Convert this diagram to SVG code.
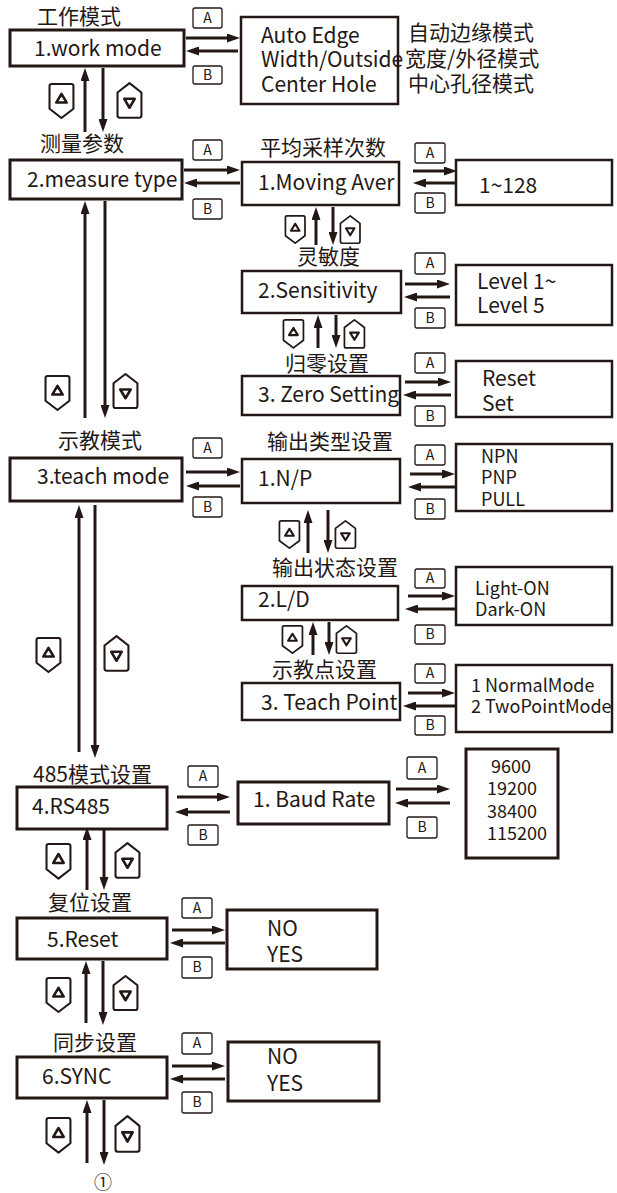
<svg xmlns="http://www.w3.org/2000/svg" width="617" height="1193" viewBox="0 0 617 1193">
<style>
text{font-family:"Noto Sans CJK SC","Noto Sans",sans-serif;fill:#231815}
.n{fill:#fff;stroke:#231815;stroke-width:2.5}
.m{fill:#fff;stroke:#231815;stroke-width:3}
.lb{font-size:21px}
.nt{font-size:21px}
.ot{font-size:21px}
.st{font-size:18px}
.ab{fill:#fff;stroke:#231815;stroke-width:1.3}
.abt{font-size:14px;text-anchor:middle}
.ar{stroke:#231815;stroke-width:3;fill:none;marker-end:url(#ah)}
.ic{fill:#fff;stroke:#231815;stroke-width:2;stroke-linejoin:round}
.tri{fill:none;stroke:#231815;stroke-width:2.5;stroke-linejoin:round}
</style>
<defs>
<marker id="ah" viewBox="0 0 13 9" refX="2" refY="4.5" markerWidth="13" markerHeight="9" markerUnits="userSpaceOnUse" orient="auto"><path d="M0,0 L13,4.5 L0,9 z" fill="#231815"/></marker>
<g id="up"><path class="ic" d="M2.5,1 H21.5 Q23.5,1 23.5,3 V25 L12,34 L0.5,25 V3 Q0.5,1 2.5,1 Z"/><path class="tri" d="M7,19 L12,10.5 L17,19 Z"/></g>
<g id="dn"><path class="ic" d="M0.5,10 L12,1 L23.5,10 V32 Q23.5,34 21.5,34 H2.5 Q0.5,34 0.5,32 Z"/><path class="tri" d="M7,16 L17,16 L12,24.5 Z"/></g>
</defs>

<g id="connectors">
<line class="ar" x1="186" y1="38" x2="229" y2="38"/><line class="ar" x1="238" y1="51" x2="197" y2="51"/>
<line class="ar" x1="184" y1="170" x2="229" y2="170"/><line class="ar" x1="240" y1="183" x2="195" y2="183"/>
<line class="ar" x1="413" y1="171" x2="446" y2="171"/><line class="ar" x1="455" y1="183" x2="424" y2="183"/>
<line class="ar" x1="405" y1="284" x2="439" y2="284"/><line class="ar" x1="450" y1="297" x2="415" y2="297"/>
<line class="ar" x1="405" y1="382" x2="440" y2="382"/><line class="ar" x1="451" y1="395" x2="414" y2="395"/>
<line class="ar" x1="186" y1="472" x2="229" y2="472"/><line class="ar" x1="240" y1="486" x2="197" y2="486"/>
<line class="ar" x1="410" y1="474" x2="444" y2="474"/><line class="ar" x1="455" y1="487" x2="419" y2="487"/>
<line class="ar" x1="408" y1="596" x2="444" y2="596"/><line class="ar" x1="455" y1="609" x2="416" y2="609"/>
<line class="ar" x1="408" y1="693" x2="444" y2="693"/><line class="ar" x1="455" y1="706" x2="414" y2="706"/>
<line class="ar" x1="177" y1="797" x2="219" y2="797"/><line class="ar" x1="230" y1="812" x2="186" y2="812"/>
<line class="ar" x1="396" y1="789" x2="439" y2="789"/><line class="ar" x1="450" y1="803" x2="406" y2="803"/>
<line class="ar" x1="172" y1="930" x2="214" y2="930"/><line class="ar" x1="225" y1="943" x2="181" y2="943"/>
<line class="ar" x1="172" y1="1066" x2="214" y2="1066"/><line class="ar" x1="225" y1="1079" x2="181" y2="1079"/>

<line class="ar" x1="85" y1="132" x2="85" y2="79"/><line class="ar" x1="103" y1="68" x2="103" y2="121"/>
<line class="ar" x1="85" y1="418" x2="85" y2="212"/><line class="ar" x1="105" y1="201" x2="105" y2="407"/>
<line class="ar" x1="316" y1="245" x2="316" y2="218"/><line class="ar" x1="333" y1="207" x2="333" y2="234"/>
<line class="ar" x1="318" y1="348" x2="318" y2="326"/><line class="ar" x1="336" y1="315" x2="336" y2="337"/>
<line class="ar" x1="79" y1="752" x2="79" y2="516"/><line class="ar" x1="95" y1="505" x2="95" y2="747"/>
<line class="ar" x1="308" y1="553" x2="308" y2="521"/><line class="ar" x1="328" y1="510" x2="328" y2="542"/>
<line class="ar" x1="313" y1="655" x2="313" y2="633"/><line class="ar" x1="329" y1="622" x2="329" y2="644"/>
<line class="ar" x1="87" y1="890" x2="87" y2="838"/><line class="ar" x1="104" y1="827" x2="104" y2="879"/>
<line class="ar" x1="86" y1="1023" x2="86" y2="972"/><line class="ar" x1="103" y1="961" x2="103" y2="1014"/>
<line class="ar" x1="87" y1="1163" x2="87" y2="1111"/><line class="ar" x1="104" y1="1100" x2="104" y2="1154"/>
</g>

<g id="keys">
<rect class="ab" x="193" y="8" width="29" height="20" rx="2"/><text class="abt" x="207.5" y="23">A</text>
<rect class="ab" x="193" y="66" width="29" height="18" rx="2"/><text class="abt" x="207.5" y="80">B</text>
<rect class="ab" x="193" y="140" width="29" height="20" rx="2"/><text class="abt" x="207.5" y="155">A</text>
<rect class="ab" x="193" y="199" width="29" height="20" rx="2"/><text class="abt" x="207.5" y="214">B</text>
<rect class="ab" x="415" y="143" width="30" height="20" rx="2"/><text class="abt" x="430" y="158">A</text>
<rect class="ab" x="415" y="193" width="30" height="20" rx="2"/><text class="abt" x="430" y="208">B</text>
<rect class="ab" x="415" y="253" width="30" height="21" rx="2"/><text class="abt" x="430" y="268">A</text>
<rect class="ab" x="415" y="308" width="30" height="20" rx="2"/><text class="abt" x="430" y="323">B</text>
<rect class="ab" x="415" y="353" width="30" height="20" rx="2"/><text class="abt" x="430" y="368">A</text>
<rect class="ab" x="415" y="406" width="30" height="20" rx="2"/><text class="abt" x="430" y="421">B</text>
<rect class="ab" x="193" y="438" width="29" height="20" rx="2"/><text class="abt" x="207.5" y="453">A</text>
<rect class="ab" x="193" y="497" width="29" height="20" rx="2"/><text class="abt" x="207.5" y="512">B</text>
<rect class="ab" x="415" y="445" width="30" height="20" rx="2"/><text class="abt" x="430" y="460">A</text>
<rect class="ab" x="415" y="499" width="30" height="20" rx="2"/><text class="abt" x="430" y="514">B</text>
<rect class="ab" x="415" y="569" width="30" height="19" rx="2"/><text class="abt" x="430" y="583">A</text>
<rect class="ab" x="415" y="625" width="30" height="19" rx="2"/><text class="abt" x="430" y="639">B</text>
<rect class="ab" x="415" y="664" width="30" height="19" rx="2"/><text class="abt" x="430" y="678">A</text>
<rect class="ab" x="415" y="716" width="30" height="19" rx="2"/><text class="abt" x="430" y="730">B</text>
<rect class="ab" x="188" y="766" width="30" height="21" rx="2"/><text class="abt" x="203" y="781">A</text>
<rect class="ab" x="188" y="825" width="30" height="20" rx="2"/><text class="abt" x="203" y="840">B</text>
<rect class="ab" x="407" y="757" width="30" height="22" rx="2"/><text class="abt" x="422" y="773">A</text>
<rect class="ab" x="407" y="817" width="30" height="21" rx="2"/><text class="abt" x="422" y="832">B</text>
<rect class="ab" x="182" y="898" width="30" height="20" rx="2"/><text class="abt" x="197" y="913">A</text>
<rect class="ab" x="182" y="957" width="30" height="21" rx="2"/><text class="abt" x="197" y="972">B</text>
<rect class="ab" x="182" y="1033" width="30" height="21" rx="2"/><text class="abt" x="197" y="1048">A</text>
<rect class="ab" x="182" y="1092" width="30" height="21" rx="2"/><text class="abt" x="197" y="1107">B</text>
</g>

<g id="icons">
<use href="#up" transform="translate(49,83) scale(1.04,1.03)"/><use href="#dn" transform="translate(117,82) scale(1.04,1.05)"/>
<use href="#up" transform="translate(45,375) scale(1.04,1.03)"/><use href="#dn" transform="translate(113,373) scale(1.04,1.03)"/>
<use href="#up" transform="translate(285,215) scale(0.85,0.83)"/><use href="#dn" transform="translate(340,215) scale(0.85,0.83)"/>
<use href="#up" transform="translate(283,319) scale(0.87,0.85)"/><use href="#dn" transform="translate(344,319) scale(0.87,0.85)"/>
<use href="#up" transform="translate(36,637) scale(1.04,1.03)"/><use href="#dn" transform="translate(104,635) scale(1.04,1.05)"/>
<use href="#up" transform="translate(279,520) scale(0.87,0.83)"/><use href="#dn" transform="translate(335,520) scale(0.87,0.83)"/>
<use href="#up" transform="translate(282,625) scale(0.87,0.83)"/><use href="#dn" transform="translate(336,625) scale(0.87,0.83)"/>
<use href="#up" transform="translate(46,843) scale(1.04,1.05)"/><use href="#dn" transform="translate(115,842) scale(1.04,1.05)"/>
<use href="#up" transform="translate(46,977) scale(1.04,1.03)"/><use href="#dn" transform="translate(113,975) scale(1.04,1.03)"/>
<use href="#up" transform="translate(46,1117) scale(1.04,1.05)"/><use href="#dn" transform="translate(115,1115) scale(1.04,1.08)"/>
</g>

<g id="n1"><text class="lb" x="37" y="24">工作模式</text><rect class="m" x="10" y="30" width="174" height="36"/><text class="nt" x="34" y="56">1.work mode</text></g>
<g id="o1"><rect class="n" x="241" y="17" width="157" height="87"/><text class="ot" x="261" y="43">Auto Edge</text><text class="ot" x="261" y="67">Width/Outside</text><text class="ot" x="261" y="92">Center Hole</text>
<text class="lb" x="408" y="40">自动边缘模式</text><text class="lb" x="405" y="66">宽度/外径模式</text><text class="lb" x="408" y="91">中心孔径模式</text></g>

<g id="n2"><text class="lb" x="40" y="151">测量参数</text><rect class="m" x="10" y="160" width="172" height="39"/><text class="nt" x="27" y="187">2.measure type</text></g>
<g id="n21"><text class="lb" x="260" y="155">平均采样次数</text><rect class="n" x="242" y="162" width="157" height="43"/><text class="nt" x="258" y="190">1.Moving Aver</text></g>
<g id="o21"><rect class="n" x="456" y="160" width="156" height="45"/><text class="ot" x="479" y="193">1~128</text></g>
<g id="n22"><text class="lb" x="297" y="264">灵敏度</text><rect class="n" x="242" y="271" width="159" height="42"/><text class="nt" x="258" y="298">2.Sensitivity</text></g>
<g id="o22"><rect class="n" x="456" y="265" width="156" height="60"/><text class="ot" x="477" y="289">Level 1~</text><text class="ot" x="477" y="313">Level 5</text></g>
<g id="n23"><text class="lb" x="285" y="371">归零设置</text><rect class="n" x="242" y="376" width="158" height="39"/><text class="nt" x="258" y="402">3. Zero Setting</text></g>
<g id="o23"><rect class="n" x="456" y="361" width="156" height="56"/><text class="ot" x="482" y="386">Reset</text><text class="ot" x="482" y="411">Set</text></g>

<g id="n3"><text class="lb" x="58" y="448">示教模式</text><rect class="m" x="10" y="458" width="172" height="43"/><text class="nt" x="37" y="484">3.teach mode</text></g>
<g id="n31"><text class="lb" x="267" y="449">输出类型设置</text><rect class="n" x="242" y="459" width="158" height="44"/><text class="nt" x="258" y="486">1.N/P</text></g>
<g id="o31"><rect class="n" x="456" y="444" width="156" height="67"/><text class="st" x="481" y="463">NPN</text><text class="st" x="481" y="484">PNP</text><text class="st" x="481" y="506">PULL</text></g>
<g id="n32"><text class="lb" x="272" y="575">输出状态设置</text><rect class="n" x="242" y="586" width="156" height="34"/><text class="nt" x="258" y="607">2.L/D</text></g>
<g id="o32"><rect class="n" x="456" y="567" width="156" height="58"/><text class="st" x="475" y="595">Light-ON</text><text class="st" x="475" y="616">Dark-ON</text></g>
<g id="n33"><text class="lb" x="272" y="677">示教点设置</text><rect class="n" x="242" y="683" width="158" height="37"/><text class="nt" x="261" y="710">3. Teach Point</text></g>
<g id="o33"><rect class="n" x="456" y="665" width="156" height="67"/><text class="st" x="471" y="692">1 NormalMode</text><text class="st" x="471" y="713">2 TwoPointMode</text></g>

<g id="n4"><text class="lb" x="33" y="782">485模式设置</text><rect class="m" x="17" y="787" width="150" height="42"/><text class="nt" x="32" y="814">4.RS485</text></g>
<g id="n41"><rect class="m" x="238" y="782" width="151" height="42"/><text class="nt" x="253" y="807">1. Baud Rate</text></g>
<g id="o41"><rect class="m" x="466" y="749" width="92" height="109"/><text class="st" x="491" y="773">9600</text><text class="st" x="487" y="795">19200</text><text class="st" x="487" y="818">38400</text><text class="st" x="487" y="840">115200</text></g>

<g id="n5"><text class="lb" x="48" y="910">复位设置</text><rect class="m" x="17" y="918" width="150" height="41"/><text class="nt" x="47" y="947">5.Reset</text></g>
<g id="o5"><rect class="m" x="227" y="910" width="150" height="59"/><text class="ot" x="267" y="936">NO</text><text class="ot" x="267" y="962">YES</text></g>

<g id="n6"><text class="lb" x="53" y="1050">同步设置</text><rect class="m" x="17" y="1057" width="150" height="41"/><text class="nt" x="42" y="1084">6.SYNC</text></g>
<g id="o6"><rect class="m" x="228" y="1042" width="151" height="59"/><text class="ot" x="267" y="1064">NO</text><text class="ot" x="267" y="1091">YES</text></g>

<text x="103" y="1189" font-size="18" text-anchor="middle">①</text>
</svg>
